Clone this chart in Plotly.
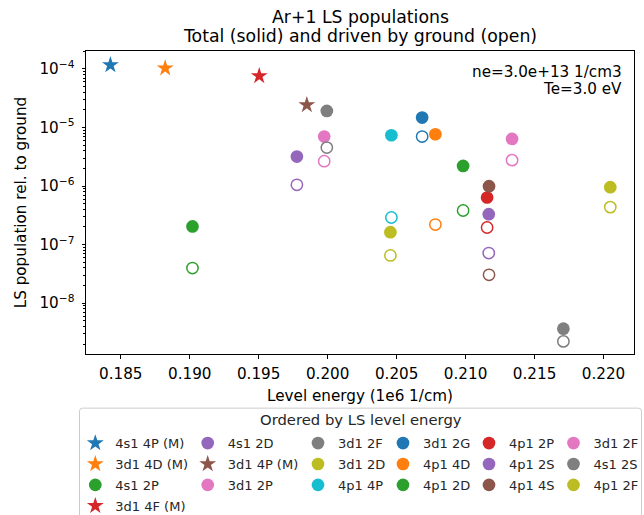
import plotly.graph_objects as go

# ---- data ----
labels = ["4s1 4P (M)", "3d1 4D (M)", "4s1 2P", "3d1 4F (M)", "4s1 2D", "3d1 4P (M)",
          "3d1 2P", "3d1 2F", "3d1 2D", "4p1 4P", "3d1 2G", "4p1 4D", "4p1 2D",
          "4p1 2P", "4p1 2S", "4p1 4S", "3d1 2F", "4s1 2S", "4p1 2F"]
energy = [0.18425, 0.18822, 0.19020, 0.19504, 0.19777, 0.19849, 0.19975, 0.19994,
          0.20455, 0.20462, 0.20685, 0.20781, 0.20982, 0.21156, 0.21168, 0.21170,
          0.21337, 0.21709, 0.22049]
total = [1.17e-4, 1.03e-4, 2.04e-7, 7.6e-5, 3.19e-6, 2.43e-5, 7.0e-6, 1.92e-5,
         1.63e-7, 7.38e-6, 1.48e-5, 7.67e-6, 2.21e-6, 6.37e-7, 3.31e-7, 9.95e-7,
         6.38e-6, 3.66e-9, 9.57e-7]
driven = [None, None, 3.97e-8, None, 1.05e-6, None, 2.66e-6, 4.54e-6,
          6.52e-8, 2.90e-7, 7.0e-6, 2.20e-7, 3.82e-7, 1.96e-7, 7.16e-8, 3.05e-8,
          2.77e-6, 2.22e-9, 4.37e-7]
legend_col = [1, 1, 1, 1, 2, 2, 2, 3, 3, 3, 4, 4, 4, 5, 5, 5, 6, 6, 6]
x_ticks = [0.185, 0.190, 0.195, 0.200, 0.205, 0.210, 0.215, 0.220]
x_ticktext = ["0.185", "0.190", "0.195", "0.200", "0.205", "0.210", "0.215", "0.220"]
y_ticks = [1e-8, 1e-7, 1e-6, 1e-5, 1e-4]
y_ticktext = ["10<sup>\u22128</sup>", "10<sup>\u22127</sup>", "10<sup>\u22126</sup>",
              "10<sup>\u22125</sup>", "10<sup>\u22124</sup>"]

tab10 = ["#1f77b4", "#ff7f0e", "#2ca02c", "#d62728", "#9467bd",
         "#8c564b", "#e377c2", "#7f7f7f", "#bcbd22", "#17becf"]

FONT = "DejaVu Sans"
FS_TICK = 15.2
FS_TITLE = 17.3
FS_LEG = 13.0
FS_LEGTITLE = 14.8

W, H = 644, 515
# plot area in page pixels
PL, PR, PT, PB = 86, 634, 51, 354.3
L, T = PL, PT
R, B = W - PR, H - PB
PW, PH = PR - PL, PB - PT


def px2paper_x(px):
    return (px - PL) / PW


def px2paper_y(py):
    return (PB - py) / PH


fig = go.Figure()
for i, lab in enumerate(labels):
    col = tab10[i % 10]
    is_m = lab.endswith("(M)")
    lg = "legend" if legend_col[i] == 1 else "legend%d" % legend_col[i]
    fig.add_trace(go.Scatter(
        x=[energy[i]], y=[total[i]], mode="markers", name=lab, legend=lg,
        legendgroup="g%d" % i,
        marker=dict(symbol="star" if is_m else "circle", size=12.7, color=col,
                    line=dict(width=0)),
    ))
    if driven[i] is not None:
        fig.add_trace(go.Scatter(
            x=[energy[i]], y=[driven[i]], mode="markers", showlegend=False,
            legendgroup="g%d" % i, legend=lg,
            marker=dict(symbol="circle-open", size=11.3, color=col,
                        line=dict(width=1.5, color=col)),
        ))

# legends: one per column (matplotlib column-major ordering)
text_x = [113.3, 225.7, 336, 421, 507, 591.5]
leg_top_px = 428.5
legends = {}
for c in range(6):
    key = "legend" if c == 0 else "legend%d" % (c + 1)
    legends[key] = dict(
        x=px2paper_x(text_x[c] - 38), xanchor="left",
        y=px2paper_y(leg_top_px), yanchor="top",
        orientation="v", bgcolor="rgba(0,0,0,0)", borderwidth=0,
        tracegroupgap=1, traceorder="grouped",
        font=dict(family=FONT, size=FS_LEG, color="#262626"),
        itemclick=False, itemdoubleclick=False,
    )

# legend frame (rounded rect)
fx0, fx1 = px2paper_x(79.5), px2paper_x(641.5)
fy0, fy1 = px2paper_y(408.5), px2paper_y(540)
rx, ry = 3 / PW, 3 / PH
path = (f"M {fx0+rx},{fy0} L {fx1-rx},{fy0} Q {fx1},{fy0} {fx1},{fy0-ry} "
        f"L {fx1},{fy1+ry} Q {fx1},{fy1} {fx1-rx},{fy1} L {fx0+rx},{fy1} "
        f"Q {fx0},{fy1} {fx0},{fy1+ry} L {fx0},{fy0-ry} Q {fx0},{fy0} {fx0+rx},{fy0} Z")

minor_vals = [m * 10.0 ** e for e in range(-10, -3) for m in range(2, 10)]

fig.update_layout(
    width=W, height=H,
    margin=dict(l=L, r=R, t=T, b=B, autoexpand=False),
    paper_bgcolor="white", plot_bgcolor="white",
    font=dict(family=FONT, size=FS_TICK, color="black"),
    showlegend=True,
    hovermode=False,
    shapes=[dict(type="path", path=path, xref="paper", yref="paper",
                 line=dict(color="#cccccc", width=1), fillcolor="white", layer="below")],
    annotations=[
        dict(text="Ar+1 LS populations", xref="paper", yref="paper",
             x=0.5, y=px2paper_y(16.5), xanchor="center", yanchor="middle",
             showarrow=False, font=dict(family=FONT, size=FS_TITLE, color="black")),
        dict(text="Total (solid) and driven by ground (open)", xref="paper", yref="paper",
             x=0.5, y=px2paper_y(35.5), xanchor="center", yanchor="middle",
             showarrow=False, font=dict(family=FONT, size=FS_TITLE, color="black")),
        dict(text="ne=3.0e+13 1/cm3", xref="paper", yref="paper",
             x=px2paper_x(624), y=px2paper_y(72), xanchor="right", yanchor="middle",
             showarrow=False, font=dict(family=FONT, size=FS_TICK, color="black")),
        dict(text="Te=3.0 eV", xref="paper", yref="paper",
             x=px2paper_x(624), y=px2paper_y(89), xanchor="right", yanchor="middle",
             showarrow=False, font=dict(family=FONT, size=FS_TICK, color="black")),
        dict(text="Ordered by LS level energy", xref="paper", yref="paper",
             x=px2paper_x(361), y=px2paper_y(420), xanchor="center", yanchor="middle",
             showarrow=False, font=dict(family=FONT, size=FS_LEGTITLE, color="#262626")),
    ],
    xaxis=dict(
        range=[0.18248, 0.22221], tickmode="array", tickvals=x_ticks, ticktext=x_ticktext,
        showgrid=False, zeroline=False, showline=True, linecolor="black", linewidth=1,
        mirror=True, ticks="outside", ticklen=3.5, tickwidth=0.8, tickcolor="black",
        tickfont=dict(family=FONT, size=FS_TICK, color="black"), ticklabelstandoff=2,
        title=dict(text="Level energy (1e6 1/cm)", standoff=8,
                   font=dict(family=FONT, size=FS_TICK, color="black")),
    ),
    yaxis=dict(
        type="log", range=[-8.869, -3.693], tickmode="array", tickvals=y_ticks,
        ticktext=y_ticktext,
        showgrid=False, zeroline=False, showline=True, linecolor="black", linewidth=1,
        mirror=True, ticks="outside", ticklen=3.5, tickwidth=0.8, tickcolor="black",
        tickfont=dict(family=FONT, size=FS_TICK, color="black"), ticklabelstandoff=4,
        minor=dict(tickmode="array", tickvals=minor_vals, ticks="outside", ticklen=2,
                   tickwidth=0.6, tickcolor="black", showgrid=False),
        title=dict(text="LS population rel. to ground", standoff=9,
                   font=dict(family=FONT, size=FS_TICK, color="black")),
    ),
    **legends,
)

fig.write_html(
    "out.html",
    config={"displayModeBar": False, "staticPlot": False},
    post_script="document.body.style.margin='0';document.body.style.overflow='hidden';",
)
